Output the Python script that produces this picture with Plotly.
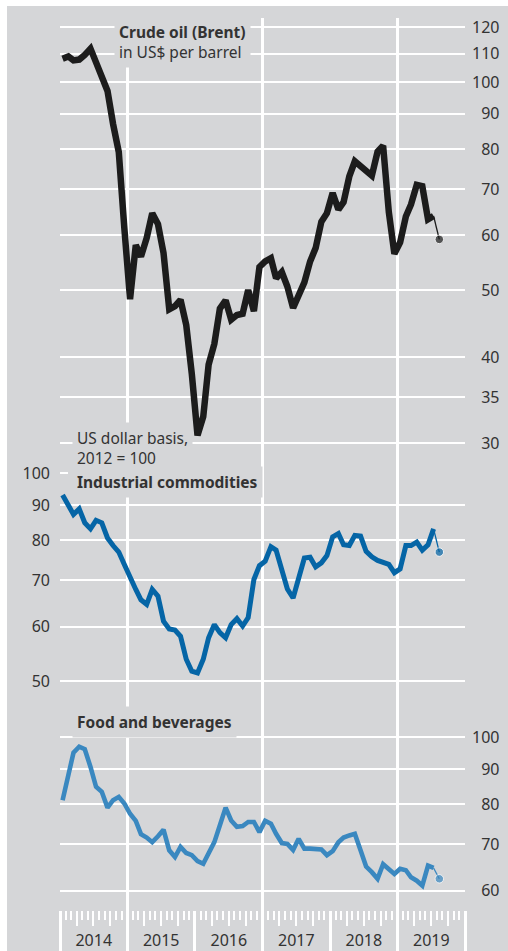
import numpy as np
import pandas as pd
import plotly.graph_objects as go

# ---------------- data (monthly, Jan 2014 - Aug 2019) ----------------
months = pd.date_range("2014-01-01", periods=68, freq="MS") + pd.Timedelta(days=14)

oil = [108.1, 108.9, 107.5, 107.8, 109.5, 111.8, 106.8, 101.6, 97.1, 87.0, 79.2, 61.5,
       48.5, 58.1, 55.9, 59.5, 64.6, 62.3, 56.6, 46.9, 47.4, 48.4, 44.5, 37.8,
       30.8, 32.8, 39.0, 41.8, 47.0, 48.3, 45.3, 46.0, 46.2, 50.0, 46.6, 54.0,
       55.0, 55.6, 52.0, 53.1, 50.6, 47.1, 49.3, 51.3, 55.0, 57.5, 62.8, 64.6,
       69.1, 65.4, 67.0, 73.0, 76.8, 75.5, 74.5, 73.2, 79.3, 80.9, 64.8, 56.4,
       58.6, 63.9, 66.5, 71.0, 70.7, 63.3, 64.0, 59.2]

industrial = [93.0, 90.0, 87.2, 88.8, 84.8, 83.1, 85.5, 84.8, 80.6, 78.6, 76.9, 73.8,
              70.6, 67.9, 65.6, 64.6, 67.9, 66.4, 61.1, 59.5, 59.3, 58.1, 53.8, 51.7,
              51.4, 53.8, 57.8, 60.4, 58.8, 57.8, 60.4, 61.6, 60.1, 61.8, 70.2, 73.5,
              74.6, 78.3, 77.4, 72.2, 68.0, 66.0, 70.6, 75.4, 75.6, 73.2, 74.2, 76.0,
              80.9, 81.8, 78.8, 78.6, 81.3, 81.1, 77.1, 75.7, 74.8, 74.4, 73.8, 71.8,
              72.7, 78.6, 78.6, 79.5, 77.4, 78.8, 83.1, 76.9]

food = [81.1, 87.7, 95.0, 96.9, 96.1, 90.6, 84.8, 83.4, 79.1, 81.1, 82.0, 80.2,
        77.5, 75.7, 72.4, 71.6, 70.5, 71.9, 73.5, 68.6, 67.1, 69.4, 68.0, 67.5,
        66.2, 65.6, 68.2, 70.5, 74.6, 79.1, 75.8, 74.2, 74.4, 75.4, 75.4, 72.9,
        75.7, 75.0, 72.5, 70.3, 70.1, 68.7, 71.3, 69.0, 69.0, 69.0, 68.8, 67.5,
        68.4, 70.5, 71.6, 72.1, 72.5, 68.6, 65.0, 63.8, 62.4, 65.5, 64.3, 63.4,
        64.5, 64.2, 62.7, 62.0, 61.0, 65.2, 64.7, 62.4]

oil_ticks = [30, 35, 40, 50, 60, 70, 80, 90, 100, 110, 120]
ind_ticks = [50, 60, 70, 80, 90]
ind_top_tick = [100]
food_ticks = [60, 70, 80, 90, 100]

# ---------------- layout geometry ----------------
W, H = 508, 951
ML, MR, MT, MB = 60, 43, 18, 0
PW, PH = W - ML - MR, H - MT - MB
PX_PER_DEC = 690.8  # same log scale for all three panels

BG = "#d5d6d8"
TXT = "#333333"
FONT = "Noto Sans"
C_OIL, C_IND, C_FOOD = "#1c1c1c", "#0565a6", "#3a88c0"


def log_range(val, py):
    lv = np.log10(val)
    return [lv - (H - MB - py) / PX_PER_DEC, lv + (py - MT) / PX_PER_DEC]


def ypos(py):
    return (H - MB - py) / PH


def xpos(px):
    return (px - ML) / PW


def pad(vals):
    return [str(v).rjust(3, "\u2007") for v in vals]


x_range = ["2014-01-01", "2020-01-01"]

fig = go.Figure()

series = [(oil, C_OIL, 6.5, "y"), (industrial, C_IND, 5, "y2"), (food, C_FOOD, 4.6, "y3")]
for vals, col, wid, yax in series:
    fig.add_trace(go.Scatter(x=months[:-1], y=vals[:-1], mode="lines",
                             line=dict(color=col, width=wid), yaxis=yax,
                             showlegend=False, hoverinfo="skip"))
    fig.add_trace(go.Scatter(x=months[-2:], y=vals[-2:], mode="lines+markers",
                             line=dict(color=col, width=1.3),
                             marker=dict(size=[0, 8.5], color=col), yaxis=yax,
                             showlegend=False, hoverinfo="skip"))

# empty traces so the helper axes are created
for xa, ya in [("x2", "y"), ("x3", "y"), ("x4", "y"), ("x", "y4")]:
    fig.add_trace(go.Scatter(x=[], y=[], xaxis=xa, yaxis=ya, showlegend=False,
                             hoverinfo="skip"))

tick_font = dict(family=FONT, size=16, color=TXT)
common_y = dict(type="log", zeroline=False, showline=False, ticks="",
                gridcolor="white", gridwidth=2, tickfont=tick_font, fixedrange=True)

fig.update_layout(
    width=W, height=H,
    margin=dict(l=ML, r=MR, t=MT, b=MB, pad=0),
    paper_bgcolor=BG, plot_bgcolor=BG,
    font=dict(family=FONT, color=TXT),
    xaxis=dict(type="date", range=x_range, showgrid=True, gridcolor="white",
               gridwidth=2.5, tick0="2015-01-01", dtick="M24", ticks="",
               showticklabels=False, zeroline=False, showline=False, fixedrange=True),
    xaxis2=dict(type="date", range=x_range, overlaying="x", anchor="free",
                position=ypos(910), ticks="outside", ticklen=41, tickwidth=2.5,
                tickcolor="white", tick0="2014-01-01", dtick="M12",
                showticklabels=False, showgrid=False, zeroline=False, showline=False,
                minor=dict(ticks="outside", dtick="M1", tick0="2014-01-01",
                           ticklen=9, tickwidth=2, tickcolor="white", showgrid=False)),
    xaxis3=dict(type="date", range=x_range, overlaying="x", anchor="free",
                position=ypos(910), ticks="outside", ticklen=15, tickwidth=2,
                tickcolor="white", tick0="2014-01-01", dtick="M3",
                showticklabels=False, showgrid=False, zeroline=False, showline=False),
    xaxis4=dict(type="date", range=x_range, overlaying="x", anchor="free",
                position=ypos(929), ticks="", tick0="2014-01-01", dtick="M12",
                tickformat="%Y", ticklabelmode="period", tickfont=tick_font,
                showgrid=False, zeroline=False, showline=False),
    yaxis=dict(common_y, domain=[0, 1], side="right", range=log_range(30, 443.3),
               tickvals=oil_ticks, ticktext=pad(oil_ticks), showgrid=True,
               ticklabelstandoff=6),
    yaxis2=dict(common_y, overlaying="y", side="left", range=log_range(100, 473.3),
                tickvals=ind_ticks, ticktext=[str(v) for v in ind_ticks],
                showgrid=True, ticklabelstandoff=9),
    yaxis3=dict(common_y, overlaying="y", side="right", range=log_range(100, 737.3),
                tickvals=food_ticks, ticktext=pad(food_ticks), showgrid=True,
                ticklabelstandoff=6),
    yaxis4=dict(common_y, overlaying="y", side="left", range=log_range(100, 473.3),
                tickvals=ind_top_tick, ticktext=[str(v) for v in ind_top_tick],
                showgrid=False, ticks="inside", ticklen=8, tickwidth=2,
                tickcolor="white", ticklabelstandoff=9),
)

ann_font = dict(family=FONT, size=15.5, color=TXT)
notes = [
    ("<b>Crude oil (Brent)</b><br>in US$ per barrel", 114, 42),
    ("US dollar basis,<br>2012 = 100", 71.5, 447.5),
    ("<b>Industrial commodities</b>", 71.5, 482),
    ("<b>Food and beverages</b>", 71.5, 721.7),
]
for text, px, py in notes:
    fig.add_annotation(text=text, xref="paper", yref="paper", x=xpos(px), y=ypos(py),
                       xanchor="left", yanchor="middle", align="left", showarrow=False,
                       font=ann_font, bgcolor=BG, borderpad=4)

# white frame strips around the grey panel
fig.add_shape(type="rect", xref="paper", yref="paper", x0=xpos(-2), x1=xpos(7),
              y0=ypos(H + 2), y1=ypos(-2), fillcolor="white", line_width=0, layer="above")
fig.add_shape(type="rect", xref="paper", yref="paper", x0=xpos(-2), x1=xpos(W + 2),
              y0=ypos(6), y1=ypos(-2), fillcolor="white", line_width=0, layer="above")

fig.write_html("out.html",
               config={"displayModeBar": False},
               post_script="document.body.style.margin='0px';"
                           "document.body.style.padding='0px';")
